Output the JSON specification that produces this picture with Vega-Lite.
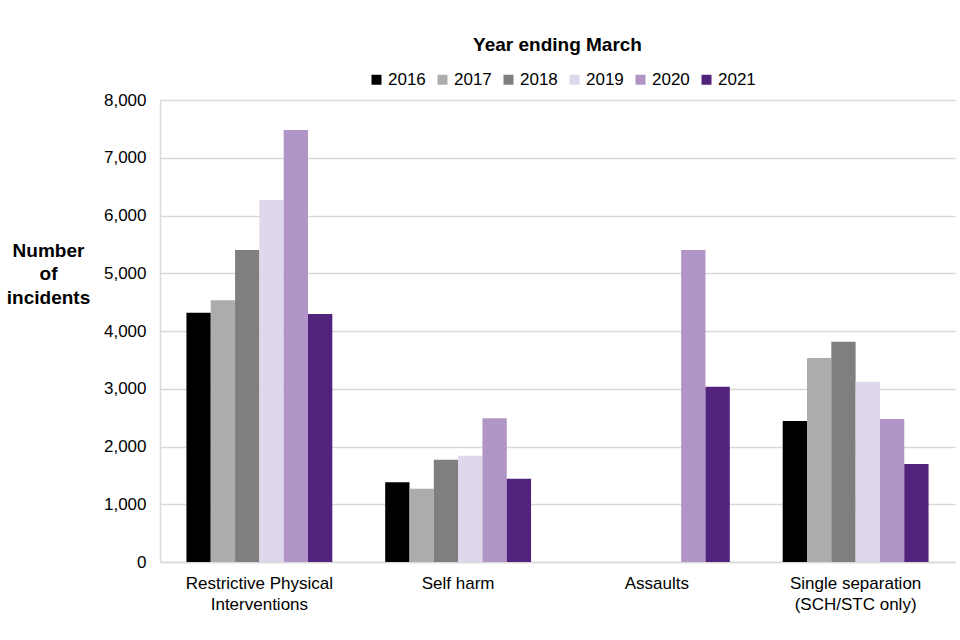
{
  "$schema": "https://vega.github.io/schema/vega-lite/v6.json",
  "autosize": {"type": "none"},
  "width": 795,
  "height": 462,
  "padding": {"left": 160, "top": 100, "right": 5, "bottom": 78},
  "background": "white",
  "title": {
    "text": "Year ending March",
    "anchor": "middle",
    "frame": "group",
    "font": "Liberation Sans",
    "fontSize": 19,
    "fontWeight": "bold",
    "color": "#000000",
    "offset": 16
  },
  "data": {
    "values": [
      {"category": "Restrictive Physical Interventions", "year": "2016", "value": 4317},
      {"category": "Restrictive Physical Interventions", "year": "2017", "value": 4532},
      {"category": "Restrictive Physical Interventions", "year": "2018", "value": 5403},
      {"category": "Restrictive Physical Interventions", "year": "2019", "value": 6268},
      {"category": "Restrictive Physical Interventions", "year": "2020", "value": 7481},
      {"category": "Restrictive Physical Interventions", "year": "2021", "value": 4294},
      {"category": "Self harm", "year": "2016", "value": 1380},
      {"category": "Self harm", "year": "2017", "value": 1270},
      {"category": "Self harm", "year": "2018", "value": 1772},
      {"category": "Self harm", "year": "2019", "value": 1841},
      {"category": "Self harm", "year": "2020", "value": 2488},
      {"category": "Self harm", "year": "2021", "value": 1443},
      {"category": "Assaults", "year": "2020", "value": 5403},
      {"category": "Assaults", "year": "2021", "value": 3036},
      {"category": "Single separation (SCH/STC only)", "year": "2016", "value": 2442},
      {"category": "Single separation (SCH/STC only)", "year": "2017", "value": 3532},
      {"category": "Single separation (SCH/STC only)", "year": "2018", "value": 3815},
      {"category": "Single separation (SCH/STC only)", "year": "2019", "value": 3122},
      {"category": "Single separation (SCH/STC only)", "year": "2020", "value": 2476},
      {"category": "Single separation (SCH/STC only)", "year": "2021", "value": 1697}
    ]
  },
  "mark": {"type": "bar"},
  "encoding": {
    "x": {
      "field": "category",
      "type": "nominal",
      "sort": ["Restrictive Physical Interventions", "Self harm", "Assaults", "Single separation (SCH/STC only)"],
      "scale": {"paddingInner": 0.266, "paddingOuter": 0.133},
      "axis": {
        "title": null,
        "labelAngle": 0,
        "labelFont": "Liberation Sans",
        "labelFontSize": 17,
        "labelColor": "#000000",
        "labelPadding": 13,
        "labelLineHeight": 21,
        "labelBaseline": "top",
        "ticks": false,
        "domainColor": "#D9D9D9",
        "domainWidth": 1.5,
        "labelExpr": "datum.value == 'Restrictive Physical Interventions' ? ['Restrictive Physical', 'Interventions'] : datum.value == 'Single separation (SCH/STC only)' ? ['Single separation', '(SCH/STC only)'] : datum.value"
      }
    },
    "xOffset": {
      "field": "year",
      "type": "nominal",
      "sort": ["2016", "2017", "2018", "2019", "2020", "2021"],
      "scale": {"domain": ["2016", "2017", "2018", "2019", "2020", "2021"], "paddingInner": 0, "paddingOuter": 0}
    },
    "y": {
      "field": "value",
      "type": "quantitative",
      "scale": {"domain": [0, 8000], "nice": false},
      "axis": {
        "values": [0, 1000, 2000, 3000, 4000, 5000, 6000, 7000, 8000],
        "format": ",.0f",
        "labelFont": "Liberation Sans",
        "labelFontSize": 17,
        "labelColor": "#000000",
        "labelPadding": 14,
        "ticks": false,
        "domainColor": "#D9D9D9",
        "domainWidth": 1.5,
        "gridColor": "#D9D9D9",
        "gridWidth": 1.5,
        "title": ["Number", "of", "incidents"],
        "titleAngle": 0,
        "titleFont": "Liberation Sans",
        "titleFontSize": 19,
        "titleFontWeight": "bold",
        "titleColor": "#000000",
        "titleAlign": "center",
        "titleBaseline": "alphabetic",
        "titleLineHeight": 23.5,
        "titleX": -112,
        "titleY": 156
      }
    },
    "color": {
      "field": "year",
      "type": "nominal",
      "scale": {
        "domain": ["2016", "2017", "2018", "2019", "2020", "2021"],
        "range": ["#000000", "#AEABAB", "#7F7F7F", "#DFD7EB", "#B095C6", "#51237D"]
      },
      "legend": {
        "title": null,
        "orient": "none",
        "direction": "horizontal",
        "legendX": 208,
        "legendY": -29,
        "symbolType": "square",
        "symbolSize": 100,
        "symbolStrokeWidth": 0,
        "labelFont": "Liberation Sans",
        "labelFontSize": 17,
        "labelColor": "#000000",
        "labelOffset": 3,
        "columnPadding": 8
      }
    }
  },
  "config": {
    "view": {"stroke": null},
    "axis": {"gridColor": "#D9D9D9"}
  }
}
